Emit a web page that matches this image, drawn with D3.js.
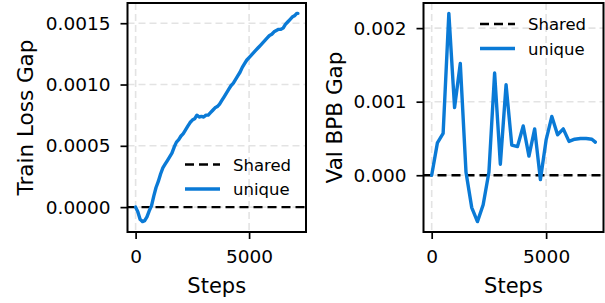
<!DOCTYPE html>
<html>
<head>
<meta charset="utf-8">
<script src="https://cdn.jsdelivr.net/npm/d3@7"></script>
<style>
  body { margin: 0; background: #fff; }
  svg { display: block; font-family: "DejaVu Sans", sans-serif; }
</style>
</head>
<body>
<div id="chart"></div>
<script>
// train loss gap (unique - shared)
let trainSteps = [0, 100, 200, 300, 400, 500, 600, 700, 800, 900, 1000, 1100, 1200, 1300, 1400, 1500,
  1600, 1700, 1800, 1900, 2000, 2100, 2200, 2300, 2400, 2500, 2600, 2700, 2800, 2900, 3000, 3100,
  3200, 3300, 3400, 3500, 3600, 3700, 3800, 3900, 4000, 4100, 4200, 4300, 4400, 4500, 4600, 4700,
  4800, 4900, 5000, 5100, 5200, 5300, 5400, 5500, 5600, 5700, 5800, 5900, 6000, 6100, 6200, 6300,
  6400, 6500, 6600, 6700, 6800, 6900, 7000, 7100, 7150]
let trainGap = [0, -0.00004, -0.0001, -0.000118, -0.00011, -0.00008, -0.00003, 0.00001, 0.00009, 0.00016,
  0.00021, 0.00027, 0.00032, 0.00035, 0.00038, 0.00041, 0.00044, 0.00049, 0.00053, 0.00055, 0.00058,
  0.0006, 0.00063, 0.00066, 0.00069, 0.00071, 0.00072, 0.00075, 0.000735, 0.00074, 0.000735, 0.00075,
  0.00075, 0.00077, 0.00079, 0.00081, 0.00082, 0.00084, 0.00087, 0.0009, 0.00093, 0.00096, 0.00099,
  0.00101, 0.00104, 0.00107, 0.0011, 0.00114, 0.00117, 0.0012, 0.00122, 0.00124, 0.00126, 0.00128,
  0.0013, 0.00132, 0.00134, 0.00136, 0.00138, 0.0014, 0.00141, 0.00143, 0.00144, 0.00145, 0.00145,
  0.00146, 0.00149, 0.00151, 0.00153, 0.00155, 0.00156, 0.00158, 0.00158]

// val bpb gap
let valSteps = [0, 250, 500, 750, 1000, 1250, 1500, 1750, 2000, 2250, 2500, 2750, 3000, 3250, 3500,
  3750, 4000, 4250, 4500, 4750, 5000, 5250, 5500, 5750, 6000, 6250, 6500, 6750, 7000, 7150]
let valGap = [0, 0.00044, 0.00057, 0.0022, 0.00092, 0.00152, 0.00004, -0.00044, -0.00063, -0.0004,
  0.00004, 0.00139, 0.00015, 0.00123, 0.00041, 0.00039, 0.00067, 0.00026, 0.00063, -0.00006,
  0.00048, 0.0008, 0.00055, 0.00063, 0.00046, 0.00049, 0.0005, 0.0005, 0.00049, 0.00045]

let xTicks = [0, 5000]
let trainTicks = [0, 0.0005, 0.001, 0.0015]
let valTicks = [0, 0.001, 0.002]

let blue = "#0a7ad6"

let svg = d3.select("#chart")
  .append("svg")
  .attr("width", 605)
  .attr("height", 303)

function panel(box, steps, vals, yTicks, yFmt, yLabel, legendPos) {
  let xExt = d3.extent(steps)
  let xPad = (xExt[1] - xExt[0]) * 0.05
  let yExt = d3.extent(vals)
  let yPad = (yExt[1] - yExt[0]) * 0.05

  let x = d3.scaleLinear()
    .domain([xExt[0] - xPad, xExt[1] + xPad])
    .range([box.left, box.right])
  let y = d3.scaleLinear()
    .domain([yExt[0] - yPad, yExt[1] + yPad])
    .range([box.bottom, box.top])

  let g = svg.append("g")

  // grid
  g.append("g")
    .selectAll("line")
    .data(xTicks)
    .enter().append("line")
      .attr("x1", d => x(d)).attr("x2", d => x(d))
      .attr("y1", box.top).attr("y2", box.bottom)
      .attr("stroke", "#e3e3e3").attr("stroke-width", 1.6)
      .attr("stroke-dasharray", "7,4")
  g.append("g")
    .selectAll("line")
    .data(yTicks)
    .enter().append("line")
      .attr("x1", box.left).attr("x2", box.right)
      .attr("y1", d => y(d)).attr("y2", d => y(d))
      .attr("stroke", "#e3e3e3").attr("stroke-width", 1.6)
      .attr("stroke-dasharray", "7,4")

  // shared baseline
  g.append("line")
    .attr("x1", box.left).attr("x2", box.right)
    .attr("y1", y(0)).attr("y2", y(0))
    .attr("stroke", "#000").attr("stroke-width", 2.4)
    .attr("stroke-dasharray", "9,5")

  let line = d3.line()
    .x((d, i) => x(steps[i]))
    .y(d => y(d))

  g.append("path")
    .datum(vals)
    .attr("fill", "none")
    .attr("stroke", blue)
    .attr("stroke-width", 3.4)
    .attr("stroke-linejoin", "round")
    .attr("stroke-linecap", "round")
    .attr("d", line)

  // axes
  let xAxis = g.append("g")
    .attr("transform", `translate(0,${box.bottom})`)
    .call(d3.axisBottom(x).tickValues(xTicks).tickFormat(d3.format("d")).tickSize(7).tickPadding(11).tickSizeOuter(0))
  let yAxis = g.append("g")
    .attr("transform", `translate(${box.left},0)`)
    .call(d3.axisLeft(y).tickValues(yTicks).tickFormat(yFmt).tickSize(7).tickPadding(10).tickSizeOuter(0))

  for (let a of [xAxis, yAxis]) {
    a.select(".domain").remove()
    a.selectAll(".tick line").attr("stroke", "#000").attr("stroke-width", 1.7)
    a.selectAll(".tick text").attr("fill", "#000").style("font-size", "18.5px").style("font-family", "DejaVu Sans")
  }

  g.append("rect")
    .attr("x", box.left).attr("y", box.top)
    .attr("width", box.right - box.left).attr("height", box.bottom - box.top)
    .attr("fill", "none").attr("stroke", "#000").attr("stroke-width", 2)

  g.append("text")
    .attr("x", (box.left + box.right) / 2)
    .attr("y", 293)
    .attr("text-anchor", "middle")
    .style("font-size", "21px")
    .text("Steps")

  g.append("text")
    .attr("transform", `translate(${box.left - box.ylab},${(box.top + box.bottom) / 2}) rotate(-90)`)
    .attr("text-anchor", "middle")
    .style("font-size", "21.5px")
    .text(yLabel)

  // legend
  let lg = g.append("g").attr("transform", `translate(${legendPos[0]},${legendPos[1]})`)
  lg.append("line")
    .attr("x1", 0).attr("x2", 35).attr("y1", 0).attr("y2", 0)
    .attr("stroke", "#000").attr("stroke-width", 2.4).attr("stroke-dasharray", "9,5")
  lg.append("text").attr("x", 48).attr("y", 6).style("font-size", "16.5px").text("Shared")
  lg.append("line")
    .attr("x1", 0).attr("x2", 35).attr("y1", 24.5).attr("y2", 24.5)
    .attr("stroke", blue).attr("stroke-width", 3.4)
  lg.append("text").attr("x", 48).attr("y", 30.5).style("font-size", "16.5px").text("unique")
}

panel({left: 127.5, right: 306, top: 3, bottom: 232, ylab: 95},
  trainSteps, trainGap, trainTicks, d3.format(".4f"), "Train Loss Gap", [185, 164.5])
panel({left: 423.5, right: 603.5, top: 3, bottom: 232, ylab: 82},
  valSteps, valGap, valTicks, d3.format(".3f"), "Val BPB Gap", [480, 24])
</script>
</body>
</html>
